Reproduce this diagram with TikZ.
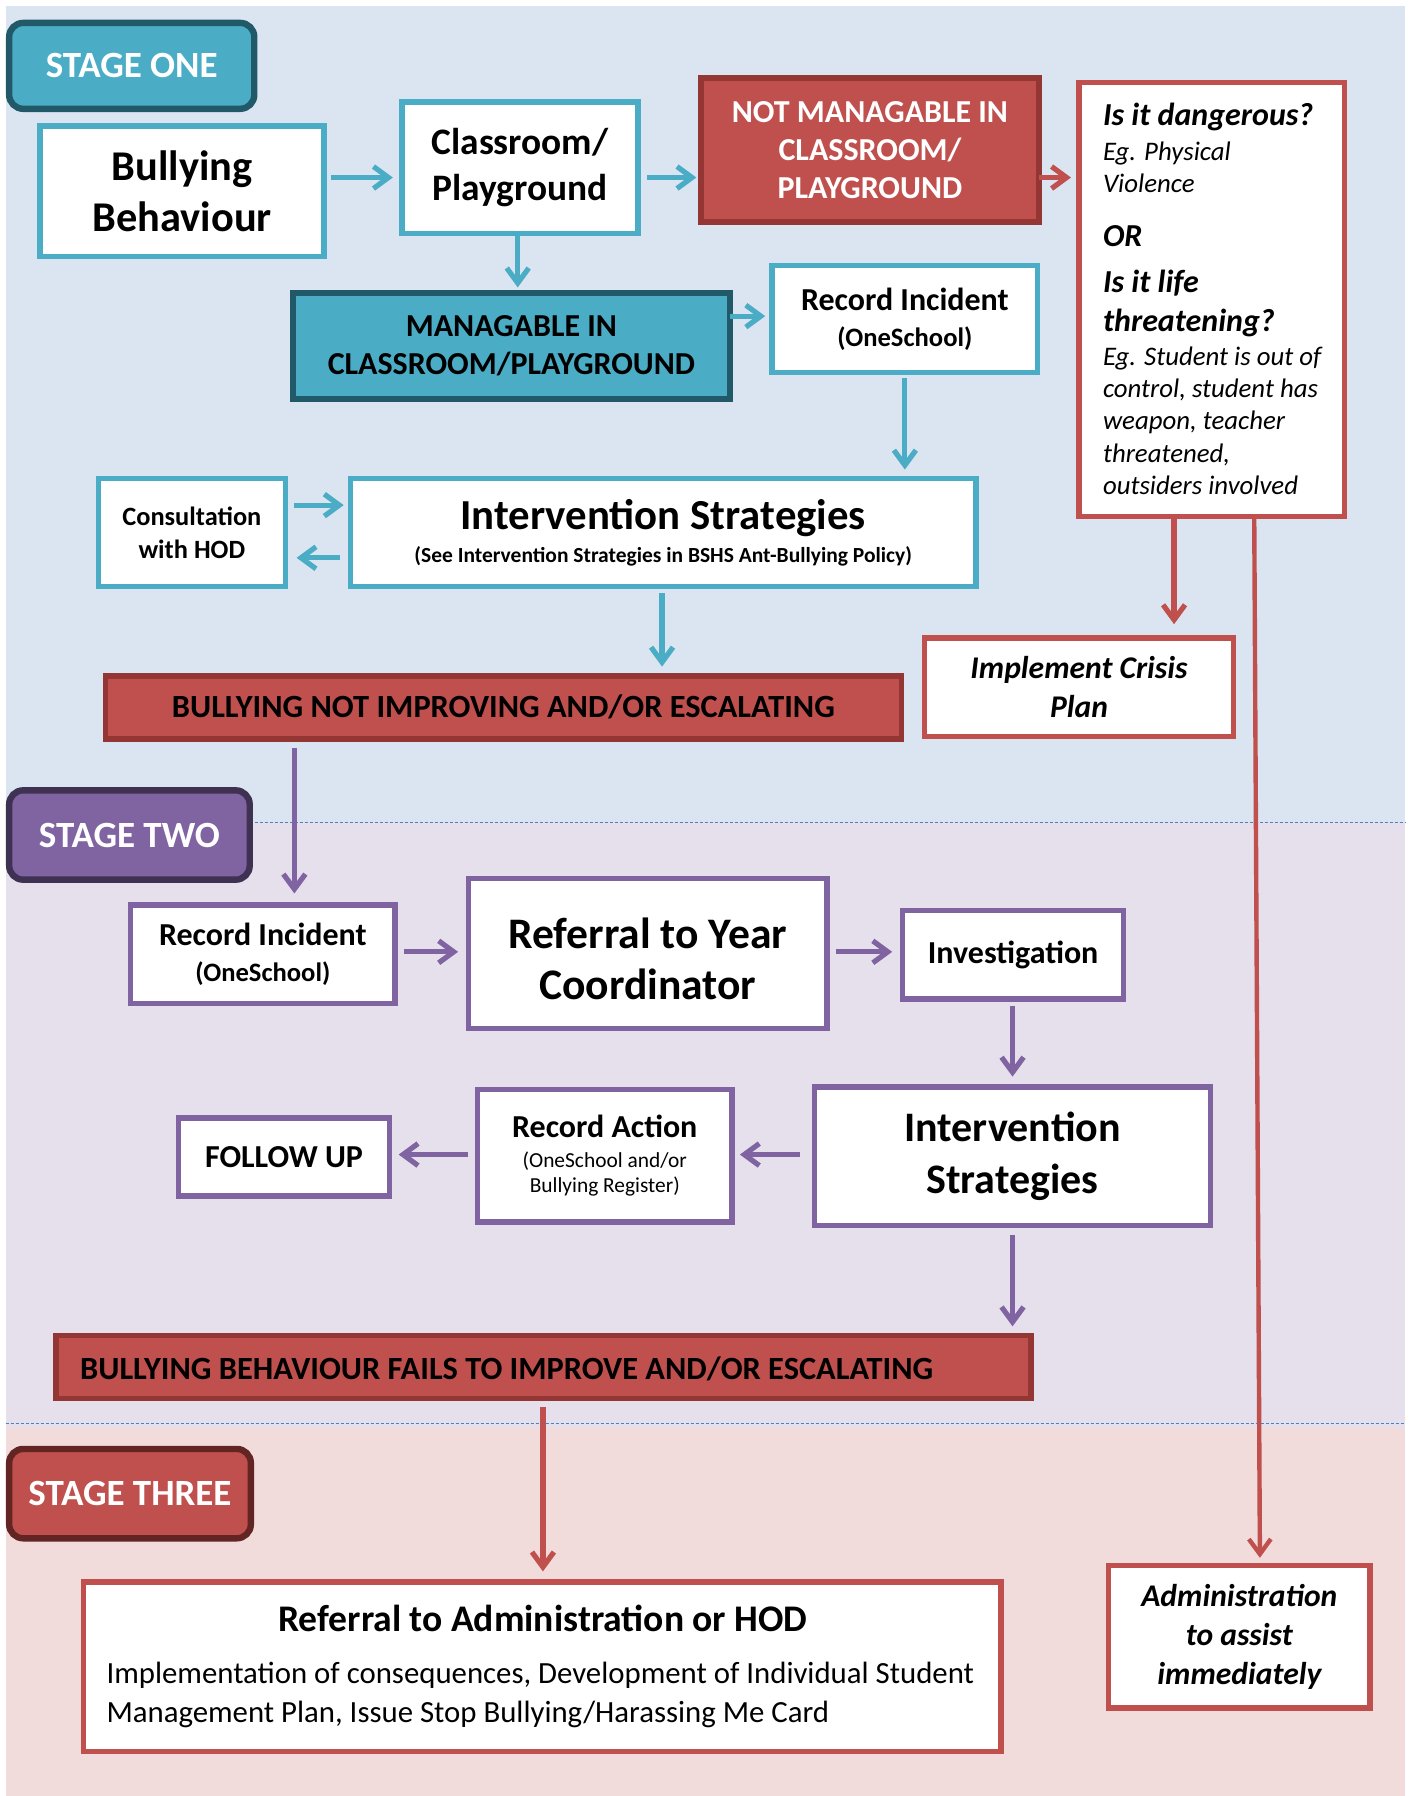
\documentclass[tikz,border=0pt]{standalone}
\usepackage{fontspec}
\setmainfont{Carlito}
\usetikzlibrary{arrows.meta,calc}
\definecolor{cblue}{HTML}{4BACC6}
\definecolor{cdteal}{HTML}{215968}
\definecolor{cpurp}{HTML}{8064A2}
\definecolor{cdpurp}{HTML}{3F3151}
\definecolor{cred}{HTML}{C0504D}
\definecolor{cdred}{HTML}{943634}
\definecolor{cdredd}{HTML}{632523}
\definecolor{bgone}{HTML}{DBE5F1}
\definecolor{bgtwo}{HTML}{E5E0EC}
\definecolor{bgthree}{HTML}{F2DCDB}
\definecolor{cdash}{HTML}{4F81BD}
\newcommand\fs[2]{\fontsize{#1}{#2}\selectfont}
\newcommand\bx[6]{\node[#1, minimum width={(#4-#2)*0.5728pt}, minimum height={(#5-#3)*0.5728pt}] (#6) at ({(#2+#4)/2},{(#3+#5)/2})}
\begin{document}
\begin{tikzpicture}[x=0.5728pt,y=-0.5728pt,
  base/.style={inner sep=0pt, outer sep=0pt, align=center, text=black},
  bluebox/.style={base, draw=cblue, line width=2.7pt, fill=white},
  purpbox/.style={base, draw=cpurp, line width=2.7pt, fill=white},
  redbox/.style={base, draw=cred, line width=2.7pt, fill=white},
  redbar/.style={base, draw=cdred, line width=2.8pt, fill=cred},
  tealbar/.style={base, draw=cdteal, line width=3pt, fill=cblue},
  stagelbl/.style={base, rounded corners=7pt, line width=3.2pt, text=white, font=\fs{18.5}{22}\bfseries},
  txt/.style={inner sep=0pt, outer sep=0pt, text=black},
  arrbase/.style={line width=2.6pt, -{Straight Barb[length=7.5pt,width=11pt]}},
  barr/.style={arrbase, draw=cblue},
  parr/.style={arrbase, draw=cpurp},
  rarr/.style={arrbase, draw=cred},
  dotl/.style={draw=cdash, line width=0.7pt, dash pattern=on 1.6pt off 0.9pt}
]
\useasboundingbox (0,0) rectangle (1236,1568);
% backgrounds
\fill[bgone] (5,5) rectangle (1227,718);
\fill[bgtwo] (5,718) rectangle (1227,1247);
\fill[bgthree] (5,1247) rectangle (1227,1568);
\draw[dotl] (218,718) -- (1227,718);
\draw[dotl] (5,1243) -- (1227,1243);

% stage labels
\bx{stagelbl, draw=cdteal, fill=cblue}{8}{20}{222}{95}{s1} {STAGE ONE};
\bx{stagelbl, draw=cdpurp, fill=cpurp}{8}{690}{218}{768}{s2} {STAGE TWO};
\bx{stagelbl, draw=cdredd, fill=cred}{8}{1265}{219}{1343}{s3} {STAGE THREE};

% stage one
\bx{bluebox, font=\fs{21.2}{25.2}\bfseries}{35}{110}{283}{224}{bb} {Bullying\\Behaviour};
\bx{bluebox, font=\fs{18.7}{22.9}\bfseries}{351}{89}{557}{204}{cr} {Classroom/\\Playground};
\bx{redbar, text=white, font=\fs{16}{19.2}\bfseries}{612}{68}{907}{194}{nm} {NOT MANAGABLE IN\\CLASSROOM/\\PLAYGROUND};
\bx{redbox}{942}{72}{1174}{451}{danger} {};
\bx{tealbar, font=\fs{16}{18.9}\bfseries}{256}{256}{637}{348}{mg} {MANAGABLE IN\\CLASSROOM/PLAYGROUND};
\bx{bluebox, font=\fs{16}{17.8}\bfseries}{674}{232}{906}{325}{ri} {Record Incident\\{\fs{13.3}{16}(OneSchool)}};
\bx{bluebox, font=\fs{13.2}{16.6}\bfseries}{86}{418}{249}{512}{cons} {Consultation\\with HOD};
\bx{bluebox, font=\fs{21.4}{16.5}\bfseries}{306}{418}{852}{512}{is} {Intervention Strategies\\{\fs{10.75}{12}(See Intervention Strategies in BSHS Ant-Bullying Policy)}};
\bx{redbar, font=\fs{16.2}{18}\bfseries}{92}{590}{787}{645}{bn} {BULLYING NOT IMPROVING AND/OR ESCALATING};
\bx{redbox, font=\fs{15.8}{19.5}\bfseries\itshape}{807}{557}{1077}{643}{crisis} {Implement Crisis\\Plan};

% danger text
\begin{scope}[every node/.style={txt, anchor=base west}]
\node[font=\fs{16}{19}\bfseries\itshape] (d1) at (963,110) {Is it dangerous?};
\node[font=\fs{13.4}{16}\itshape] (d2) at (963,140) {Eg. Physical};
\node[font=\fs{13.4}{16}\itshape] (d3) at (963,168) {Violence};
\node[font=\fs{16}{19}\bfseries\itshape] (d4) at (963,215) {OR};
\node[font=\fs{16}{19}\bfseries\itshape] (d5) at (963,255) {Is it life};
\node[font=\fs{16}{19}\bfseries\itshape] (d6) at (963,289) {threatening?};
\node[font=\fs{13.4}{16}\itshape] (d7) at (963,319) {Eg. Student is out of};
\node[font=\fs{13.4}{16}\itshape] (d8) at (963,347) {control, student has};
\node[font=\fs{13.4}{16}\itshape] (d9) at (963,375) {weapon, teacher};
\node[font=\fs{13.4}{16}\itshape] (d10) at (963,404) {threatened,};
\node[font=\fs{13.4}{16}\itshape] (d11) at (963,432) {outsiders involved};
\end{scope}

% stage two
\bx{purpbox, font=\fs{16}{17.8}\bfseries}{114}{790}{345}{876}{rib} {Record Incident\\{\fs{13.3}{16}(OneSchool)}};
\bx{purpbox, font=\fs{21.8}{25.8}\bfseries}{409}{767}{722}{898}{ref} {\\[-5pt]Referral to Year\\Coordinator};
\bx{purpbox, font=\fs{16}{19}\bfseries}{788}{795}{981}{872}{inv} {Investigation};
\bx{purpbox, font=\fs{21}{25.8}\bfseries}{711}{949}{1057}{1070}{isb} {Intervention\\Strategies};
\bx{purpbox, font=\fs{16}{12.6}\bfseries}{417}{951}{639}{1067}{ra} {Record Action\\[2.3pt]{\mdseries\fs{10.7}{12}(OneSchool and/or}\\{\mdseries\fs{10.7}{12}Bullying Register)}};
\bx{purpbox, font=\fs{16}{19}\bfseries}{156}{976}{340}{1044}{fu} {FOLLOW UP};
\bx{redbar}{49}{1166}{900}{1221}{bf} {};
\node[txt, anchor=west, font=\fs{16.2}{18}\bfseries] (bft) at (70,1195) {BULLYING BEHAVIOUR FAILS TO IMPROVE AND/OR ESCALATING};

% stage three
\bx{redbox}{73}{1381}{874}{1529}{rad} {};
\node[txt, font=\fs{18.8}{22}\bfseries] (radt) at (474,1413) {Referral to Administration or HOD};
\node[txt, anchor=west, align=left, font=\fs{15.4}{19.5}] (radb) at (93,1480) {Implementation of consequences, Development of Individual Student\\Management Plan, Issue Stop Bullying/Harassing Me Card};
\bx{redbox, font=\fs{15.8}{19.5}\bfseries\itshape}{968}{1367}{1196}{1491}{admin} {Administration\\to assist\\immediately};

% arrows stage one
\draw[barr, shorten <=3.4pt, shorten >=4.6pt] (bb.east |- 0,155) -- (cr.west |- 0,155);
\draw[barr, shorten <=4.6pt, shorten >=2.3pt] (cr.east |- 0,155) -- (nm.west |- 0,155);
\draw[rarr, shorten >=4pt] (nm.east |- 0,155) -- (danger.west |- 0,155);
\draw[barr, shorten >=2.9pt] (cr.south -| 452,0) -- (mg.north -| 452,0);
\draw[barr, shorten >=3.4pt] (mg.east |- 0,276) -- (ri.west |- 0,276);
\draw[barr, shorten <=2.9pt, shorten >=4.6pt] (ri.south -| 790,0) -- (is.north -| 790,0);
\draw[barr, shorten <=4.6pt, shorten >=3.4pt] (cons.east |- 0,441) -- (is.west |- 0,441);
\draw[barr, shorten <=5.2pt, shorten >=5.7pt] (is.west |- 0,487) -- (cons.east |- 0,487);
\draw[barr, shorten <=3.4pt, shorten >=4.6pt] (is.south -| 578,0) -- (bn.north -| 578,0);
\coordinate (dc) at ($(danger.south west)+(83,0)$);
\draw[rarr, shorten >=6.9pt] (dc) -- (dc |- crisis.north);
\draw[rarr, line width=2.2pt, shorten >=4pt] ($(danger.south west)+(153,0)$) -- ($(admin.north west)+(132,0)$);

% arrows stage two
\draw[parr, shorten <=4.6pt, shorten >=5.7pt] (bn.south -| 257,0) -- (rib.north -| 257,0);
\draw[parr, shorten <=4.6pt, shorten >=5.2pt] (rib.east |- 0,831) -- (ref.west |- 0,831);
\draw[parr, shorten <=4.6pt, shorten >=5.2pt] (ref.east |- 0,831) -- (inv.west |- 0,831);
\draw[parr, shorten <=3.4pt, shorten >=5.2pt] (inv.south -| 884,0) -- (isb.north -| 884,0);
\draw[parr, shorten <=7.4pt, shorten >=4pt] (isb.west |- 0,1008) -- (ra.east |- 0,1008);
\draw[parr, shorten <=4.6pt, shorten >=4.6pt] (ra.west |- 0,1008) -- (fu.east |- 0,1008);
\draw[parr, shorten <=4.6pt, shorten >=4.6pt] (isb.south -| 884,0) -- (bf.north -| 884,0);

% arrow stage three
\draw[rarr, shorten <=4pt, shorten >=5.2pt] (bf.south -| 474,0) -- (rad.north -| 474,0);
\end{tikzpicture}
\end{document}
